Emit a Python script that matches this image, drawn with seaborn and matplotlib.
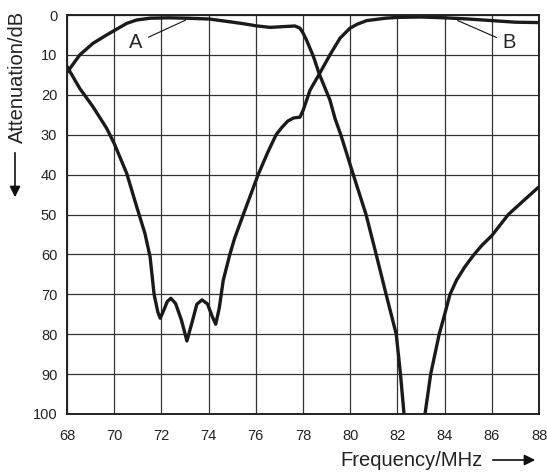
import seaborn as sns
import matplotlib.pyplot as plt
import pandas as pd

# curve A, passband part (68 MHz down to the notch below 100 dB)
freq_a_pass = [68.0, 68.54, 69.1, 69.68, 70.0, 70.53, 70.95, 71.52, 72.3, 73.07, 74.02, 74.9,
               75.5, 76.0, 76.6, 77.2, 77.66, 77.87, 78.0, 78.15, 78.44, 78.69, 79.14,
               79.36, 79.6, 80.13, 80.67, 81.1, 81.52, 81.95, 82.13, 82.28]
atten_a_pass = [14.4, 10.0, 7.1, 5.0, 3.9, 2.1, 1.25, 0.8, 0.7, 0.8, 1.0, 1.7,
                2.2, 2.7, 3.1, 2.9, 2.75, 3.3, 4.5, 6.3, 10.4, 14.8, 21.3,
                26.0, 30.0, 40.0, 50.0, 60.0, 70.0, 80.0, 90.0, 100.0]
# curve A, upper stopband after the notch
freq_a_stop = [83.17, 83.41, 83.77, 83.94, 84.23, 84.51, 84.86, 85.25, 85.6, 86.0, 86.7, 87.35, 87.97]
atten_a_stop = [100.0, 90.0, 80.0, 76.4, 70.0, 66.4, 63.1, 60.0, 57.6, 55.3, 50.0, 46.5, 43.2]
# curve B
freq_b = [68.0, 68.54, 69.1, 69.68, 70.0, 70.53, 70.95, 71.3, 71.52, 71.69, 71.85, 71.95,
          72.1, 72.25, 72.4, 72.6, 72.85, 73.08, 73.3, 73.5, 73.72, 73.95, 74.15, 74.3,
          74.45, 74.62, 74.9, 75.1, 75.47, 76.1, 76.5, 76.86, 77.1, 77.35,
          77.6, 77.87, 78.01, 78.3, 78.69, 79.14, 79.57, 79.99, 80.3, 80.7, 81.5, 82.0,
          83.0, 84.0, 85.0, 86.0, 87.0, 88.0]
atten_b = [12.9, 18.4, 23.0, 28.4, 32.2, 39.7, 48.0, 54.7, 60.6, 70.0, 74.5, 76.0,
           74.0, 71.8, 71.0, 72.3, 76.5, 81.7, 77.0, 72.5, 71.4, 72.4, 75.5, 77.5,
           73.5, 66.5, 60.0, 56.0, 50.0, 40.0, 34.5, 30.0, 28.2, 26.6,
           25.8, 25.6, 23.8, 18.8, 14.8, 10.0, 5.8, 3.3, 2.3, 1.4, 0.8, 0.6,
           0.5, 0.7, 1.0, 1.4, 1.8, 1.9]

freq_ticks = list(range(68, 89, 2))
atten_ticks = list(range(0, 101, 10))

segs = [('A1', freq_a_pass, atten_a_pass), ('A2', freq_a_stop, atten_a_stop), ('B', freq_b, atten_b)]
df = pd.concat([pd.DataFrame({'freq': f, 'atten': a, 'seg': s}) for s, f, a in segs],
               ignore_index=True)

sns.set_style('white')
plt.rcParams['font.family'] = ['Liberation Sans', 'DejaVu Sans']

fig, ax = plt.subplots(figsize=(5.47, 4.72), dpi=100)
fig.subplots_adjust(left=0.1225, right=0.9854, bottom=0.1229, top=0.9682)

ax.grid(True, color='#333333', lw=0.9)
sns.lineplot(data=df, x='freq', y='atten', units='seg', estimator=None, sort=False,
             color='#1a1a1a', lw=2.4, ax=ax, legend=False)
for ln in ax.lines:
    ln.set_solid_joinstyle('round')

ax.set_xlim(68, 88)
ax.set_ylim(100, 0)
ax.set_xticks(freq_ticks)
ax.set_yticks(atten_ticks)
ax.tick_params(axis='both', length=0, labelsize=10.5, colors='#222222')
ax.tick_params(axis='x', pad=10.5)
ax.tick_params(axis='y', pad=7)
for sp in ax.spines.values():
    sp.set_color('#222222')
    sp.set_linewidth(1.4)
ax.set_xlabel('')
ax.set_ylabel('')

# axis titles with direction arrows
fig.text(411 / 547, 1 - 460 / 472, 'Frequency/MHz', fontsize=14.5, color='#222222',
         ha='center', va='center')
fig.text(17 / 547, 1 - 77 / 472, 'Attenuation/dB', fontsize=14.5, color='#222222',
         ha='center', va='center', rotation=90)
ax.annotate('', xy=(538, 12), xytext=(490, 12), xycoords='figure pixels',
            arrowprops=dict(arrowstyle='-|>', color='#111111', lw=1.2, mutation_scale=16))
ax.annotate('', xy=(15, 272), xytext=(15, 322), xycoords='figure pixels',
            arrowprops=dict(arrowstyle='-|>', color='#111111', lw=1.2, mutation_scale=16))

# curve labels
ax.annotate('A', xy=(73.13, 1.0), xytext=(70.92, 7.0), fontsize=14.5, ha='center', va='center',
            arrowprops=dict(arrowstyle='-', color='#111111', lw=0.8))
ax.annotate('B', xy=(84.44, 1.1), xytext=(86.73, 7.0), fontsize=14.5, ha='center', va='center',
            arrowprops=dict(arrowstyle='-', color='#111111', lw=0.8))

plt.savefig('out.png', dpi=100)
